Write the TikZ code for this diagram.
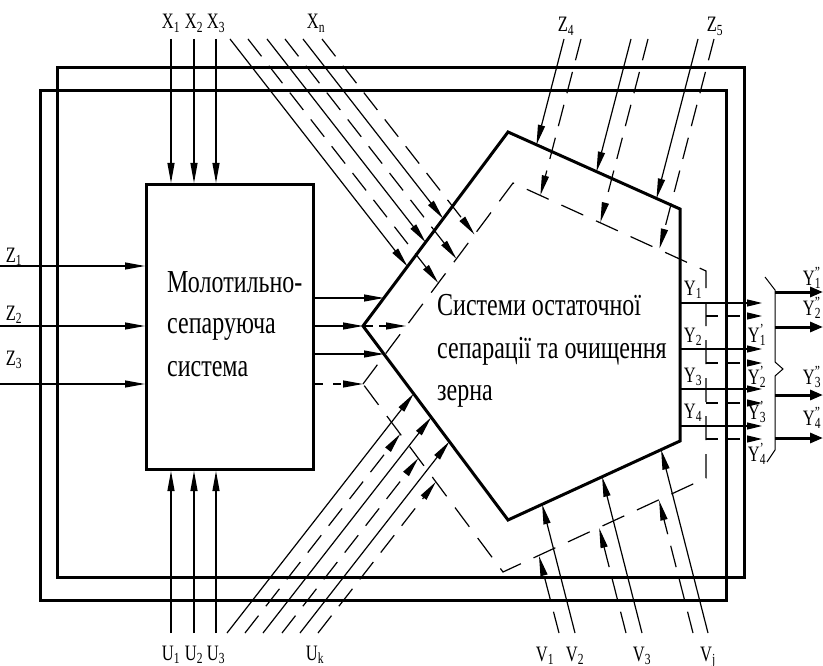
\documentclass[tikz,border=0pt]{standalone}
\usepackage{fontspec}
\setmainfont{Liberation Serif}[FakeStretch=0.75]
\usetikzlibrary{arrows.meta}
\newcommand\lsub[1]{\textsubscript{#1}}
\newcommand\ylab[2]{Y\rlap{\textsuperscript{#1}}\textsubscript{#2}}
\begin{document}
\begin{tikzpicture}[x=1pt,y=-1pt,
  thinarr/.style={line width=1.2pt,-{Triangle[length=20pt,width=7pt]}},
  dasharr/.style={thinarr,dash pattern=on 22pt off 12pt},
  thickline/.style={line width=3pt},
  thickarr/.style={line width=3pt,-{Triangle[length=13pt,width=10pt]}},
  yarr/.style={line width=1.2pt,-{Triangle[length=15pt,width=7pt]}},
  ydash/.style={yarr,dash pattern=on 12pt off 10pt},
  dline/.style={line width=1.2pt,dash pattern=on 24pt off 14pt},
  lbl/.style={font=\fontsize{22}{24}\selectfont,inner sep=0pt,anchor=base,text height=13pt,text depth=3pt},
  big/.style={font=\fontsize{32}{40}\selectfont,inner sep=0pt,anchor=base west},
]
\useasboundingbox (0,0) rectangle (823,666);

% frames
\coordinate (fa1) at (57,68); \coordinate (fa2) at (744,577);
\coordinate (fb1) at (40,91); \coordinate (fb2) at (726,600);
\draw[thickline] (fa1) rectangle (fa2);
\draw[thickline] (fb1) rectangle (fb2);

% left box
\node[draw,thickline,minimum width=167pt,minimum height=285pt,anchor=north west,inner sep=0pt] (ms) at (145,183) {};
\node[big] (mt1) at (167,292) {Молотильно-};
\node[big] (mt2) at (167,334) {сепаруюча};
\node[big] (mt3) at (167,376) {система};

% pentagons
\coordinate (p1) at (363,326); \coordinate (p2) at (508,132); \coordinate (p3) at (680,209);
\coordinate (p4) at (680,441); \coordinate (p5) at (508,520);
\draw[thickline,line join=miter] (p1)--(p2)--(p3)--(p4)--(p5)--cycle;
\coordinate (q1) at (363,384); \coordinate (q2) at (513,183); \coordinate (q3) at (706,271);
\coordinate (q4) at (706,478); \coordinate (q5) at (503,572);
\draw[dline] (q1)--(q2)--(q3)--(q4)--(q5)--cycle;
\node[big] (st1) at (437,315) {Системи остаточної};
\node[big] (st2) at (437,358) {сепарації та очищення};
\node[big] (st3) at (437,400) {зерна};

% X inputs
\foreach \n/\x in {1/171,2/194,3/216}{
  \coordinate (xs\n) at (\x,39);
  \draw[thinarr] (xs\n) -- (xs\n |- ms.north);
  \node[lbl] (xl\n) at (\x,29) {X\lsub{\n}};
  \coordinate (us\n) at (\x,633);
  \draw[thinarr] (us\n) -- (us\n |- ms.south);
  \node[lbl] (ul\n) at (\x,660) {U\lsub{\n}};
}
\node[lbl] (xln) at (316,29) {X\lsub{n}};
\node[lbl] (ulk) at (315,660) {U\lsub{k}};

% Z1..Z3
\foreach \n/\y/\ly in {1/266/262,2/326/320,3/384/365}{
  \coordinate (zs\n) at (0,\y);
  \draw[thinarr] (zs\n) -- (zs\n -| ms.west);
  \node[lbl] (zl\n) at (14,\ly) {Z\lsub{\n}};
}

% box -> pentagon
\coordinate (a1) at (384,298); \coordinate (a3) at (384,354); \coordinate (a5) at (406,326);
\draw[thinarr] (ms.east |- a1) -- (a1);
\draw[thinarr] (ms.east |- p1) -- (p1);
\draw[thinarr,dash pattern=on 10pt off 6pt] (p1) -- (a5);
\draw[thinarr] (ms.east |- a3) -- (a3);
\draw[thinarr,dash pattern=on 8pt off 10pt] (ms.east |- q1) -- (q1);

% Xn diagonal bundle
\foreach \n/\sx/\ex/\ey in {a/230/407.5/266.5,b/267/425.6/242.3,c/303/443.2/218.7}{
  \coordinate (xds\n) at (\sx,39); \coordinate (xde\n) at (\ex,\ey);
  \draw[thinarr] (xds\n) -- (xde\n);}
\foreach \n/\sx/\ex/\ey in {a/248/438.3/283,b/285/456.4/258.8,c/322/474.6/234.6}{
  \coordinate (xqs\n) at (\sx,39); \coordinate (xqe\n) at (\ex,\ey);
  \draw[dasharr] (xqs\n) -- (xqe\n);}

% Uk diagonal bundle
\foreach \n/\sx/\ex/\ey in {a/227/413.7/393.7,b/263/431.2/417.3,c/300/449.4/441.5}{
  \coordinate (uds\n) at (\sx,633); \coordinate (ude\n) at (\ex,\ey);
  \draw[thinarr] (uds\n) -- (ude\n);}
\foreach \n/\sx/\ex/\ey in {a/245/400.3/433.9,b/282/418.3/458.2,c/318/435.9/481.8}{
  \coordinate (uqs\n) at (\sx,633); \coordinate (uqe\n) at (\ex,\ey);
  \draw[dasharr] (uqs\n) -- (uqe\n);}

% Z4, Z5
\foreach \n/\sx/\ex/\ey in {a/564/536.5/144.8,b/631/596.5/171.6,c/698/656.5/198.5}{
  \coordinate (zds\n) at (\sx,39); \coordinate (zde\n) at (\ex,\ey);
  \draw[thinarr] (zds\n) -- (zde\n);}
\foreach \n/\sx/\ex/\ey in {a/581/540.4/195.3,b/648/600.4/222.2,c/714/659.5/248.6}{
  \coordinate (zqs\n) at (\sx,39); \coordinate (zqe\n) at (\ex,\ey);
  \draw[dasharr] (zqs\n) -- (zqe\n);}
\node[lbl] (zl4) at (566,32) {Z\lsub{4}};
\node[lbl] (zl5) at (715,32) {Z\lsub{5}};

% V inputs
\foreach \n/\sx/\ex/\ey in {a/575/542.1/504.3,b/642/602.1/476.8,c/708/661.1/449.7}{
  \coordinate (vds\n) at (\sx,633); \coordinate (vde\n) at (\ex,\ey);
  \draw[thinarr] (vds\n) -- (vde\n);}
\foreach \n/\sx/\ex/\ey in {a/559/539/556,b/626/599.2/528,c/693/659.1/500.5}{
  \coordinate (vqs\n) at (\sx,633); \coordinate (vqe\n) at (\ex,\ey);
  \draw[dasharr] (vqs\n) -- (vqe\n);}
\node[lbl] (vl1) at (545,661) {V\lsub{1}};
\node[lbl] (vl2) at (575,661) {V\lsub{2}};
\node[lbl] (vl3) at (642,661) {V\lsub{3}};
\node[lbl] (vlj) at (708,661) {V\lsub{j}};

% Y outputs
\foreach \n/\y/\ly in {1/303/295,2/349/342,3/389/382,4/426/418}{
  \coordinate (ye\n) at (762,\y);
  \draw[yarr] (p3 |- ye\n) -- (ye\n);
  \node[lbl] (yl\n) at (693,\ly) {Y\lsub{\n}};}
\foreach \n/\y/\ly in {1/316/342,2/363/384,3/403/419,4/439/461}{
  \coordinate (yqe\n) at (762,\y);
  \draw[ydash] (q3 |- yqe\n) -- (yqe\n);
  \node[lbl] (ypl\n) at (757,\ly) {\ylab{'}{\n}};}

% brace
\coordinate (b0) at (765,277); \coordinate (b1) at (775,290); \coordinate (b2) at (775,362);
\coordinate (b3) at (783,369); \coordinate (b4) at (775,376); \coordinate (b5) at (775,450);
\coordinate (b6) at (767,462);
\draw[line width=1pt] (b0)--(b1)--(b2)--(b3)--(b4)--(b5)--(b6);

% Y'' outputs
\foreach \n/\y/\ly in {1/292/285,2/327/315,3/395/384,4/438/425}{
  \coordinate (yys\n) at (775,\y); \coordinate (yye\n) at (823,\y);
  \draw[thickarr] (yys\n) -- (yye\n);
  \node[lbl] (yyl\n) at (812,\ly) {\ylab{"}{\n}};}
\end{tikzpicture}
\end{document}
